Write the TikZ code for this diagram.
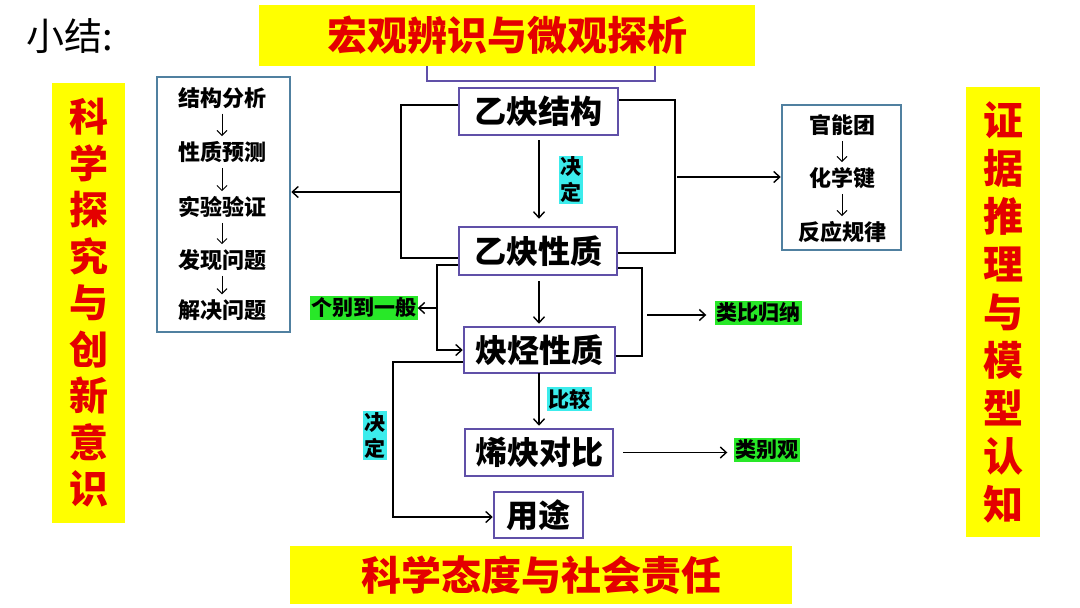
\documentclass[tikz,border=0pt]{standalone}
\usepackage{fontspec}
\setmainfont{Noto Sans CJK SC}
\usetikzlibrary{arrows.meta}
\definecolor{boxpurple}{RGB}{96,80,168}
\definecolor{boxblue}{RGB}{80,128,160}
\definecolor{bannery}{RGB}{255,255,0}
\definecolor{bannerr}{RGB}{228,0,0}
\definecolor{labgreen}{RGB}{40,232,40}
\definecolor{labcyan}{RGB}{60,236,236}
\begin{document}
\begin{tikzpicture}[x=1pt,y=-1pt,
  mainbox/.style={draw=boxpurple, line width=2.5pt, fill=white, inner sep=0pt,
    font=\fontsize{32}{36}\selectfont\bfseries},
  sidebox/.style={draw=boxblue, line width=2.5pt, fill=white, inner sep=0pt},
  item/.style={inner sep=3pt, font=\fontsize{22}{26}\selectfont\bfseries},
  banner/.style={fill=bannery, inner sep=0pt, text=bannerr,
    font=\fontsize{40}{52}\selectfont\bfseries},
  vbanner/.style={fill=bannery, inner sep=0pt, text=bannerr, align=center,
    text width=44pt, font=\fontsize{39}{46.5}\selectfont\bfseries},
  glabel/.style={fill=labgreen, inner sep=1.5pt, font=\fontsize{21}{24}\selectfont\bfseries},
  clabel/.style={fill=labcyan, inner sep=1.5pt, font=\fontsize{21}{26}\selectfont\bfseries},
  vclabel/.style={clabel, align=center, text width=21pt},
  conn/.style={line width=1.5pt, black},
  arr/.style={conn, -{Straight Barb[length=6pt,width=11pt,line width=1.4pt]}},
  smallarr/.style={line width=1pt, -{Straight Barb[length=5pt,width=10pt,line width=1pt]},
    shorten <=2pt, shorten >=2pt}
]
\useasboundingbox (0,0) rectangle (1080,608);
\fill[white] (0,0) rectangle (1080,608);

% title
\node[inner sep=0pt, font=\fontsize{38}{44}\selectfont] (title) at (70,36) {小结:};

% hidden box behind top banner
\node[mainbox, minimum width=228, minimum height=40] (hid) at (541,61) {};

% banners
\node[banner, minimum width=496, minimum height=61] (tb) at (507,35.5) {宏观辨识与微观探析};
\node[banner, minimum width=502, minimum height=58] (bb) at (541,575) {科学态度与社会责任};
\node[vbanner, minimum width=73, minimum height=440] (lvb) at (88.5,303)
  {科\\学\\探\\究\\与\\创\\新\\意\\识};
\node[vbanner, minimum width=74, minimum height=450, font=\fontsize{40}{48}\selectfont\bfseries] (rvb) at (1003,312)
  {证\\据\\推\\理\\与\\模\\型\\认\\知};

% main boxes
\node[mainbox, minimum width=159, minimum height=47] (jg) at (538.5,111.5) {乙炔结构};
\node[mainbox, minimum width=158, minimum height=48] (xz) at (538,251) {乙炔性质};
\node[mainbox, minimum width=151, minimum height=46] (yt) at (539.5,350) {炔烃性质};
\node[mainbox, minimum width=148, minimum height=47] (db) at (539,452.5) {烯炔对比};
\node[mainbox, minimum width=89, minimum height=46] (yt2) at (538.5,515) {用途};

% left box
\node[sidebox, minimum width=133, minimum height=255] (lbox) at (223.5,204.5) {};
\node[item] (l1) at (222,98) {结构分析};
\node[item] (l2) at (222,152) {性质预测};
\node[item] (l3) at (222,207) {实验验证};
\node[item] (l4) at (222,260) {发现问题};
\node[item] (l5) at (222,310) {解决问题};
\draw[smallarr] (l1) -- (l2);
\draw[smallarr] (l2) -- (l3);
\draw[smallarr] (l3) -- (l4);
\draw[smallarr] (l4) -- (l5);

% right box
\node[sidebox, minimum width=119, minimum height=145] (rbox) at (841.5,177.5) {};
\node[item] (r1) at (842,125) {官能团};
\node[item] (r2) at (842,178) {化学键};
\node[item] (r3) at (842,232) {反应规律};
\draw[smallarr] (r1) -- (r2);
\draw[smallarr] (r2) -- (r3);

% labels
\node[vclabel] (jd1) at (571,180) {决\\定};
\node[glabel] (gb) at (363.5,308) {个别到一般};
\node[glabel] (lb) at (758,313) {类比归纳};
\node[clabel] (bj) at (569.5,399) {比较};
\node[vclabel] (jd2) at (375,435.5) {决\\定};
\node[glabel] (lbg) at (766.5,450) {类别观};

% level 1 brackets
\coordinate (L1) at (401,192);
\draw[conn] (jg.west |- 0,105) -| (L1) |- (xz.west |- 0,258);
\draw[arr] (L1) -- (lbox.east |- L1);
\coordinate (R1) at (675,177);
\draw[conn] (jg.east |- 0,100) -| (R1) |- (xz.east |- 0,253);
\draw[arr] ([xshift=2pt]R1) -- (rbox.west |- R1);
\coordinate (A1) at (539,140);
\draw[arr] (A1) -- (A1 |- xz.north) [shorten >=7pt];

% level 2 brackets
\coordinate (L2) at (437,308);
\draw[conn] (xz.west |- 0,265) -| (L2);
\draw[arr] (L2) |- (yt.west |- 0,350);
\draw[arr] (L2) -- (gb.east);
\coordinate (R2) at (642,315);
\draw[conn] (xz.east |- 0,268) -| (R2) |- (yt.east |- 0,356);
\draw[arr, shorten >=8pt] ([xshift=5pt]R2) -- (lb.west |- R2);
\coordinate (A2) at (539,281);
\draw[arr, shorten >=2pt] (A2) -- (A2 |- yt.north);

% level 3
\coordinate (L3) at (393,436);
\draw[conn] (yt.west |- 0,362) -| (L3);
\draw[arr] (L3) |- (yt2.west |- 0,517);
\coordinate (A3) at (539,373);
\draw[arr, shorten >=2pt] (A3) -- (A3 |- db.north);
\draw[arr, shorten >=6pt] ([xshift=9pt]db.east) -- (lbg.west |- db.east);
\end{tikzpicture}
\end{document}
